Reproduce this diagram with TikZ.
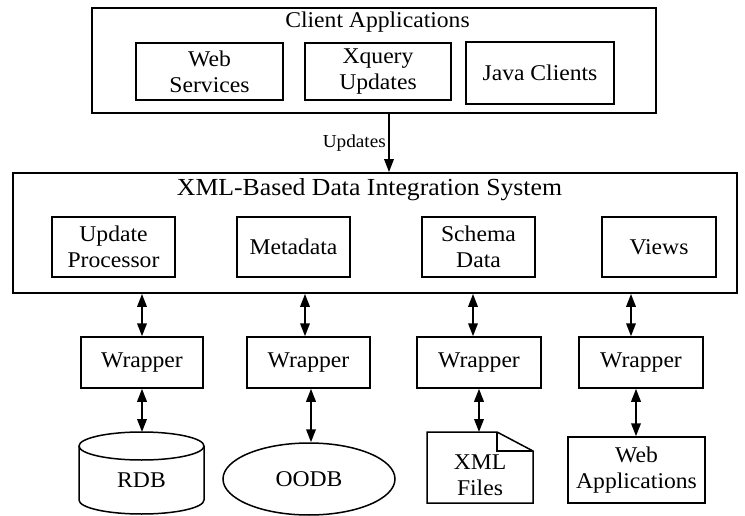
\documentclass[tikz,border=0pt]{standalone}
\usepackage{fontspec}
\setmainfont{Liberation Serif}[FakeStretch=1.05]
\usetikzlibrary{arrows.meta,shapes.geometric}
\newcommand\dgboxfont{\fontsize{22.5}{26}\selectfont}
\newcommand\dgtitlefont{\fontsize{24.5}{28}\selectfont}
\newcommand\dgsmallfont{\fontsize{18.3}{22}\selectfont}

\begin{document}
\begin{tikzpicture}[x=1pt,y=-1pt,
  box/.style={draw, line width=1.5pt, inner sep=0pt, align=center, font=\dgboxfont},
  frame/.style={draw, line width=1.8pt, inner sep=0pt},
  txt/.style={inner sep=0pt, align=center, font=\dgboxfont},
  outline/.style={line width=1.5pt},
  link/.style={line width=2pt, arrows={Triangle[length=13pt,width=9.5pt]-Triangle[length=13pt,width=9.5pt]}},
  oneway/.style={line width=1.8pt, arrows={-Triangle[length=13pt,width=9.5pt]}}]
\useasboundingbox (0,0) rectangle (745,516);

% client layer
\node[frame, minimum width=564pt, minimum height=105pt] (client) at (374,60.5) {};
\node[txt] (clienttitle) at (377.5,22) {Client Applications};
\node[box, minimum width=147pt, minimum height=57pt] (ws) at (209.5,71.5) {Web\\Services};
\node[box, minimum width=146pt, minimum height=57pt] (xq) at (378,71.5) {Xquery\\Updates};
\node[box, minimum width=148pt, minimum height=62pt] (jc) at (540,73) {Java Clients};

% integration layer
\node[frame, minimum width=724pt, minimum height=120pt] (sys) at (375,233) {};
\node[txt, font=\dgtitlefont] (systitle) at (369.5,190) {XML-Based Data Integration System};
\node[box, minimum width=123pt, minimum height=60pt] (up) at (113.5,247) {Update\\Processor};
\node[box, minimum width=113pt, minimum height=60pt] (md) at (293.5,247) {Metadata};
\node[box, minimum width=113pt, minimum height=60pt] (sd) at (478.5,247) {Schema\\Data};
\node[box, minimum width=114pt, minimum height=60pt] (vw) at (659,247) {Views};

% updates from clients
\coordinate (ux) at (389,0);
\draw[oneway] (client.south -| ux) -- (sys.north -| ux);
\node[inner sep=0pt, font=\dgsmallfont, anchor=east] (updlbl) at (386,143) {Updates};

% wrappers
\node[box, minimum width=122pt, minimum height=51pt] (w1) at (142,362.5) {Wrapper};
\node[box, minimum width=123pt, minimum height=51pt] (w2) at (308.5,362.5) {Wrapper};
\node[box, minimum width=124pt, minimum height=51pt] (w3) at (479,362.5) {Wrapper};
\node[box, minimum width=124pt, minimum height=51pt] (w4) at (641,362.5) {Wrapper};

% sources
\node[txt] (rdb) at (141.5,480) {RDB};
\draw[outline] ([shift={(0,-34)}]rdb.center) ellipse [x radius=62.5pt, y radius=14pt];
\draw[outline] ([shift={(-62.5,-34)}]rdb.center) -- ([shift={(-62.5,20)}]rdb.center)
  arc[start angle=180, end angle=360, x radius=62.5pt, y radius=14pt]
  -- ([shift={(62.5,-34)}]rdb.center);

\node[ellipse, draw, line width=1.5pt, inner sep=0pt, minimum width=172pt, minimum height=72pt, font=\dgboxfont] (oodb) at (309,479) {OODB};

\node[txt] (xml) at (480,475) {XML\\Files};
\draw[outline, line join=miter] ([shift={(-53,-43)}]xml.center) -- ([shift={(17,-43)}]xml.center)
  -- ([shift={(53,-24)}]xml.center) -- ([shift={(53,28)}]xml.center)
  -- ([shift={(-53,28)}]xml.center) -- cycle;
\draw[outline] ([shift={(17,-43)}]xml.center) -- ([shift={(17,-24)}]xml.center)
  -- ([shift={(53,-24)}]xml.center);

\node[box, minimum width=137pt, minimum height=66pt] (webapp) at (636.5,470) {Web\\Applications};

% links between integration layer and wrappers
\coordinate (a1) at (142,0);
\coordinate (a2) at (305,0);
\coordinate (a3) at (473,0);
\coordinate (a4) at (631,0);
\draw[link] (sys.south -| a1) -- (w1.north -| a1);
\draw[link] (sys.south -| a2) -- (w2.north -| a2);
\draw[link] (sys.south -| a3) -- (w3.north -| a3);
\draw[link] (sys.south -| a4) -- (w4.north -| a4);

% links between wrappers and sources
\coordinate (b1) at (142,0);
\coordinate (b2) at (311,0);
\coordinate (b3) at (479,0);
\coordinate (b4) at (636,0);
\draw[link] (w1.south -| b1) -- ([yshift=48pt]rdb.center -| b1);
\draw[link] (w2.south -| b2) -- (oodb.north -| b2);
\draw[link] (w3.south -| b3) -- ([yshift=43pt]xml.center -| b3);
\draw[link] (w4.south -| b4) -- (webapp.north -| b4);
\end{tikzpicture}
\end{document}
